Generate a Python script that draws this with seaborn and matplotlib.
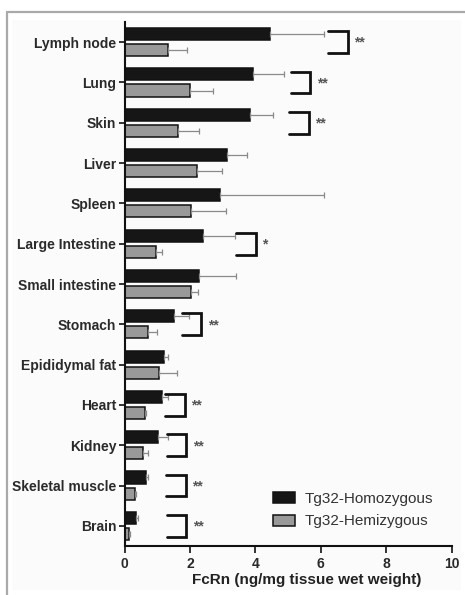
import matplotlib
matplotlib.use("Agg")
import matplotlib.pyplot as plt
from matplotlib.lines import Line2D
from matplotlib.patches import Rectangle
import numpy as np
import pandas as pd
import seaborn as sns

# Tissue FcRn levels (ng/mg tissue wet weight), mean and upper error
tissues = ["Lymph node", "Lung", "Skin", "Liver", "Spleen", "Large Intestine",
           "Small intestine", "Stomach", "Epididymal fat", "Heart", "Kidney",
           "Skeletal muscle", "Brain"]
homo_mean = [4.45, 3.94, 3.84, 3.12, 2.92, 2.39, 2.29, 1.51, 1.22, 1.14, 1.01, 0.66, 0.34]
homo_err = [1.65, 0.94, 0.69, 0.62, 3.18, 0.99, 1.12, 0.46, 0.10, 0.20, 0.31, 0.05, 0.08]
hemi_mean = [1.34, 2.00, 1.65, 2.23, 2.02, 0.95, 2.02, 0.73, 1.06, 0.63, 0.56, 0.32, 0.15]
hemi_err = [0.56, 0.72, 0.64, 0.74, 1.07, 0.21, 0.24, 0.27, 0.54, 0.03, 0.15, 0.04, 0.02]
significance = ["**", "**", "**", "", "", "*", "", "**", "", "**", "**", "**", "**"]
groups = ["Tg32-Homozygous", "Tg32-Hemizygous"]
x_ticks = [0, 2, 4, 6, 8, 10]
x_label = "FcRn (ng/mg tissue wet weight)"

# left edge of each significance bracket (annotation layout)
bracket_left = [6.23, 5.08, 5.03, None, None, 3.41, None, 1.75, None, 1.24, 1.29, 1.27, 1.29]

df = pd.DataFrame({
    "Tissue": tissues * 2,
    "Genotype": [groups[0]] * len(tissues) + [groups[1]] * len(tissues),
    "FcRn": homo_mean + hemi_mean,
    "Err": homo_err + hemi_err,
})

sns.set_theme(style="white")
plt.rcParams["font.family"] = ["Liberation Sans", "DejaVu Sans"]

fig = plt.figure(figsize=(4.65, 5.95), dpi=100, facecolor="white")

# scanned-panel frame
fig.add_artist(Rectangle((12 / 465, 5 / 595), 449 / 465, 570 / 595,
                         transform=fig.transFigure, facecolor="#fbfbfb",
                         edgecolor="none", zorder=-10))
fig.add_artist(Line2D([7 / 465, 1.0], [1 - 12 / 595, 1 - 12 / 595],
                      transform=fig.transFigure, color="#aaaaaa", lw=1.6))
fig.add_artist(Line2D([7 / 465, 7 / 465], [0, 1 - 12 / 595],
                      transform=fig.transFigure, color="#aaaaaa", lw=1.6))

ax = fig.add_axes([124.5 / 465, 49 / 595, 327 / 465, 524 / 595])
ax.set_facecolor("none")

palette = {groups[0]: "#161616", groups[1]: "#999999"}
sns.barplot(data=df, y="Tissue", x="FcRn", hue="Genotype", order=tissues,
            hue_order=groups, palette=palette, orient="h", errorbar=None,
            width=0.8, gap=0.25, edgecolor="#111111", linewidth=1.1,
            saturation=1, ax=ax)

# one-sided error bars on each bar
err_lookup = {(r.Tissue, r.Genotype): r.Err for r in df.itertuples()}
for grp, cont in zip(groups, ax.containers):
    for rect in cont:
        yc = rect.get_y() + rect.get_height() / 2
        idx = int(round(yc))
        w = rect.get_width()
        e = err_lookup[(tissues[idx], grp)]
        ax.errorbar(w, yc, xerr=[[0], [e]], fmt="none", ecolor="#8a8a8a",
                    elinewidth=0.9, capsize=2.2, capthick=0.9, zorder=1)

# significance brackets
for i, (lab, xl) in enumerate(zip(significance, bracket_left)):
    if not lab:
        continue
    xr = xl + 0.6
    ax.plot([xl, xr, xr, xl], [i - 0.27, i - 0.27, i + 0.27, i + 0.27],
            color="#111111", lw=2.0, solid_joinstyle="miter", clip_on=False)
    ax.text(xr + 0.2, i + 0.02, lab, ha="left", va="center", fontsize=10,
            fontweight="bold", color="#555555")

ax.set_xlim(0, 10)
ax.set_ylim(len(tissues) - 0.5, -0.5)
ax.set_xticks(x_ticks)
ax.set_xticklabels([str(t) for t in x_ticks])
ax.set_ylabel("")
ax.set_xlabel(x_label, fontsize=11, fontweight="bold", color="#222222")
ax.xaxis.set_label_coords(0.557, -0.052)

for lab in ax.get_yticklabels() + ax.get_xticklabels():
    lab.set_fontweight("bold")
    lab.set_fontsize(10)
    lab.set_color("#2a2a2a")

ax.tick_params(axis="y", left=True, length=4, width=1.2, color="#111111", pad=2)
ax.tick_params(axis="x", bottom=True, length=5, width=1.2, color="#111111", pad=3)
sns.despine(ax=ax)
for s in ["left", "bottom"]:
    ax.spines[s].set_linewidth(1.5)
    ax.spines[s].set_color("#111111")

sns.move_legend(ax, "upper left", bbox_to_anchor=(0.455, 0.103), frameon=False,
                title=None, fontsize=11, handlelength=1.45, handleheight=0.75,
                handletextpad=0.6, labelspacing=0.55, borderpad=0,
                borderaxespad=0)
for t in ax.get_legend().get_texts():
    t.set_color("#333333")

fig.savefig("out.png", dpi=100, facecolor="white")
